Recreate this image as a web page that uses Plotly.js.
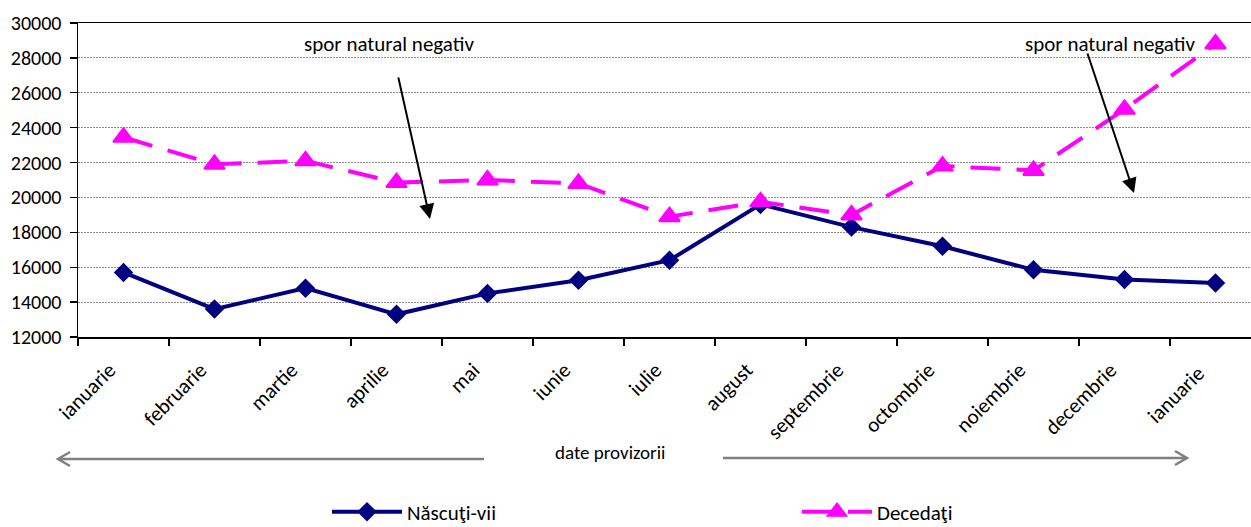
<!DOCTYPE html>
<html>
<head>
<meta charset="utf-8">
<script src="https://cdn.plot.ly/plotly-3.0.1.min.js"></script>
<style>html,body{margin:0;padding:0;background:#fff;}#chart{width:1251px;height:527px;}</style>
</head>
<body>
<div id="chart"></div>
<script>
const months = ["ianuarie","februarie","martie","aprilie","mai","iunie","iulie","august","septembrie","octombrie","noiembrie","decembrie","ianuarie "];
const nascutiVii = [15700, 13600, 14800, 13300, 14500, 15250, 16400, 19600, 18300, 17200, 15850, 15300, 15100];
const decedati = [23450, 21900, 22100, 20850, 21000, 20800, 18900, 19750, 19000, 21800, 21550, 25050, 28800];
const yTicks = [12000, 14000, 16000, 18000, 20000, 22000, 24000, 26000, 28000, 30000];
const seriesNames = ["Născuţi-vii", "Decedaţi"];
const noteText = "spor natural negativ";
const provText = "date provizorii";

const FONT = "Carlito, Lato, 'Liberation Sans', sans-serif";

const traces = [
  {
    x: months, y: nascutiVii, name: seriesNames[0], type: "scatter", mode: "lines+markers",
    line: {color: "#000080", width: 4},
    marker: {symbol: "diamond", size: 15, color: "#000080"},
    legend: "legend"
  },
  {
    x: months, y: decedati, name: seriesNames[1], type: "scatter", mode: "lines+markers",
    line: {color: "#FF00FF", width: 4, dash: "30px,16px"},
    marker: {symbol: "triangle-up", size: 18, color: "#FF00FF", line: {color: "#FF00FF", width: 2}},
    legend: "legend2"
  }
];

const W = 1251, H = 527, L = 78, R = 0, T = 23, B = 190;
const pw = W - L - R, ph = H - T - B;
const px = v => (v - L) / pw;
const py = v => (H - B - v) / ph;

const legendBase = {
  orientation: "h", xanchor: "left", yanchor: "middle", y: py(512),
  itemwidth: 70, font: {family: FONT, size: 21, color: "#000"},
  bgcolor: "rgba(0,0,0,0)", borderwidth: 0
};

const grey = "#808080";
function arrowPath(x1, x2, yy, dir) {
  const h = 12, w = 7;
  return `M ${px(x1)} ${py(yy)} L ${px(x2)} ${py(yy)} M ${px(x2 - dir*h)} ${py(yy - w)} L ${px(x2)} ${py(yy)} L ${px(x2 - dir*h)} ${py(yy + w)}`;
}

const textAnn = (cx, cy, txt, size) => ({
  xref: "paper", yref: "paper", x: px(cx), y: py(cy), xanchor: "center", yanchor: "middle",
  text: txt, showarrow: false, font: {family: FONT, size: size, color: "#000"}
});

const layout = {
  width: W, height: H,
  margin: {l: L, r: R, t: T, b: B, autoexpand: false},
  paper_bgcolor: "#fff", plot_bgcolor: "#fff",
  font: {family: FONT, size: 20, color: "#000"},
  showlegend: true,
  legend: Object.assign({}, legendBase, {x: px(327)}),
  legend2: Object.assign({}, legendBase, {x: px(797)}),
  xaxis: {
    type: "category", range: [-0.5, 12.39], automargin: false,
    showline: true, linecolor: "#000", linewidth: 1.5, mirror: true,
    ticks: "outside", tickson: "boundaries", ticklen: 7, tickcolor: "#000", tickwidth: 1.3,
    showgrid: false, tickangle: -45, ticklabelstandoff: 11, ticklabelshift: -14,
    tickfont: {family: FONT, size: 21, color: "#000"},
    zeroline: false
  },
  yaxis: {
    range: [12000, 30000], tickvals: yTicks, ticktext: yTicks.map(String), automargin: false,
    showline: true, linecolor: "#000", linewidth: 1.5,
    ticks: "outside", ticklen: 7, tickcolor: "#000", tickwidth: 1.3, ticklabelstandoff: 4,
    showgrid: true, gridcolor: "#8c8c8c", griddash: "2px,1px", gridwidth: 1,
    tickfont: {family: FONT, size: 20, color: "#000"}, zeroline: false
  },
  shapes: [
    {type: "path", xref: "paper", yref: "paper", path: arrowPath(484, 58, 459, -1), line: {color: grey, width: 2.5}},
    {type: "path", xref: "paper", yref: "paper", path: arrowPath(723, 1187, 458, 1), line: {color: grey, width: 2.5}}
  ],
  annotations: [
    textAnn(389, 44, noteText, 21),
    textAnn(1110, 44, noteText, 21),
    {xref: "paper", yref: "paper", x: px(430), y: py(219), text: "", showarrow: true, ax: -32, ay: -143, arrowhead: 2, arrowsize: 1.5, arrowwidth: 2, arrowcolor: "#000"},
    {xref: "paper", yref: "paper", x: px(1134), y: py(193), text: "", showarrow: true, ax: -47, ay: -141, arrowhead: 2, arrowsize: 1.5, arrowwidth: 2, arrowcolor: "#000"},
    textAnn(610, 452, provText, 19)
  ]
};

Plotly.newPlot("chart", traces, layout, {displayModeBar: false, staticPlot: true});
</script>
</body>
</html>
